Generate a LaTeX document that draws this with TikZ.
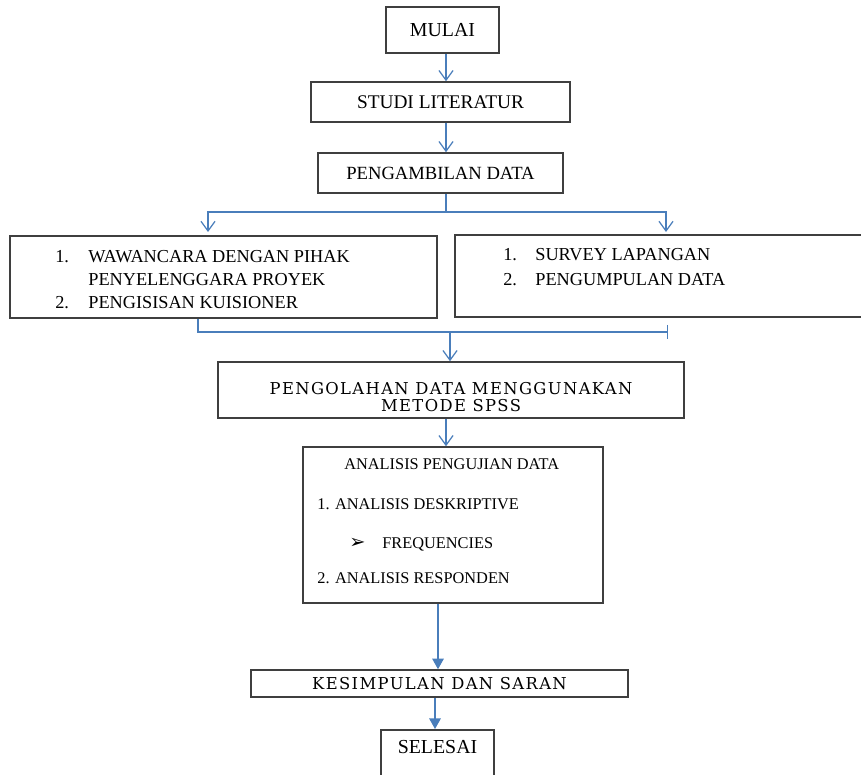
\documentclass[tikz,border=0pt]{standalone}
\usepackage{fontspec}
\setmainfont{Liberation Serif}
\newfontfamily\lebar[LetterSpace=8.5]{DejaVu Serif}
\newfontfamily\simbol{DejaVu Sans}
\usetikzlibrary{arrows.meta}

\definecolor{garis}{HTML}{3F3F3F}
\definecolor{biru}{HTML}{4A7EBB}

\begin{document}
\begin{tikzpicture}[x=0.02cm, y=-0.02cm,
  kotak/.style={draw=garis, line width=0.9pt, inner sep=0pt, align=center},
  panah/.style={draw=biru, line width=0.7pt, -{Straight Barb[length=5.5pt, width=8pt]}},
  panahpenuh/.style={draw=biru, line width=0.9pt, -{Triangle[length=6pt, width=6.5pt]}, fill=biru},
  garisbiru/.style={draw=biru, line width=0.7pt},
  isi/.style={anchor=base west, inner sep=0pt, font=\fontsize{10.4}{12}\selectfont},
  kecil/.style={anchor=base west, inner sep=0pt, font=\fontsize{9.3}{11}\selectfont}]

  \clip (0,0) rectangle (861,774);

  \node[kotak, minimum width=2.26cm, minimum height=0.92cm, font=\fontsize{11.3}{13}\selectfont] (mulai) at (442.5,30) {MULAI};
  \node[kotak, minimum width=5.18cm, minimum height=0.80cm, font=\fontsize{11}{13}\selectfont] (studi) at (440.5,102) {STUDI LITERATUR};
  \node[kotak, minimum width=4.90cm, minimum height=0.80cm, font=\fontsize{10.6}{13}\selectfont] (ambil) at (440.5,173) {PENGAMBILAN DATA};

  \node[kotak, minimum width=8.54cm, minimum height=1.64cm] (kiri) at (223.5,277) {};
  \node[isi] (k1) at (55,262) {1.};
  \node[isi] (k1a) at (88,262) {WAWANCARA DENGAN PIHAK};
  \node[isi] (k1b) at (88,285) {PENYELENGGARA PROYEK};
  \node[isi] (k2) at (55,308) {2.};
  \node[isi] (k2a) at (88,308) {PENGISISAN KUISIONER};

  \node[kotak, minimum width=8.30cm, minimum height=1.64cm] (kanan) at (662.5,276) {};
  \node[isi] (n1) at (503,260) {1.};
  \node[isi] (n1a) at (535,260) {SURVEY LAPANGAN};
  \node[isi] (n2) at (503,285) {2.};
  \node[isi] (n2a) at (535,285) {PENGUMPULAN DATA};

  \node[kotak, minimum width=9.32cm, minimum height=1.12cm] (olah) at (451,390) {};
  \node[inner sep=0pt, anchor=base, font=\lebar\fontsize{9.3}{11}\selectfont] (olah1) at (451,394) {PENGOLAHAN DATA MENGGUNAKAN};
  \node[inner sep=0pt, anchor=base, font=\lebar\fontsize{9.3}{11}\selectfont] (olah2) at (451,411) {METODE SPSS};

  \node[kotak, minimum width=6.00cm, minimum height=3.12cm] (analisis) at (453,525) {};
  \node[kecil] (a0) at (344,469) {ANALISIS PENGUJIAN DATA};
  \node[kecil] (a1) at (317,509) {1. ANALISIS DESKRIPTIVE};
  \node[kecil, font=\simbol\fontsize{11}{12}\selectfont] (a1b) at (349,548) {➢};
  \node[kecil] (a1c) at (382,548) {FREQUENCIES};
  \node[kecil] (a2) at (317,583) {2. ANALISIS RESPONDEN};

  \node[kotak, minimum width=7.54cm, minimum height=0.54cm, font=\lebar\fontsize{9.3}{11}\selectfont] (kes) at (439.5,683.5) {KESIMPULAN DAN SARAN};

  \node[kotak, anchor=north, minimum width=2.26cm, text height=0.48cm, text depth=1cm, font=\fontsize{11.3}{13}\selectfont] (selesai) at (437.5,729) {SELESAI};

  % penghubung
  \coordinate (sumbu) at (446,0);
  \coordinate (poros) at (438,0);
  \coordinate (porosakhir) at (435,0);
  \coordinate (cabang) at (446,212);
  \coordinate (kiriujung) at (208,232);
  \coordinate (kananujung) at (666,232);
  \coordinate (kaki) at (198,332);
  \coordinate (ekor) at (668,332);
  \coordinate (gabung) at (450,332);

  \draw[panah] (mulai.south -| sumbu) -- (studi.north -| sumbu);
  \draw[panah] (studi.south -| sumbu) -- (ambil.north -| sumbu);
  \draw[garisbiru] (ambil.south -| sumbu) -- (cabang);
  \draw[panah] (cabang) -| (kiriujung);
  \draw[panah] (cabang) -| (kananujung);
  \draw[garisbiru, -{Bar[width=8pt]}] (kiri.south -| kaki) -- (kaki) -- (ekor);
  \draw[panah] (gabung) -- (olah.north -| gabung);
  \draw[panah] (olah.south -| sumbu) -- (analisis.north -| sumbu);
  \draw[panahpenuh] (analisis.south -| poros) -- (kes.north -| poros);
  \draw[panahpenuh] (kes.south -| porosakhir) -- (selesai.north -| porosakhir);

\end{tikzpicture}
\end{document}
